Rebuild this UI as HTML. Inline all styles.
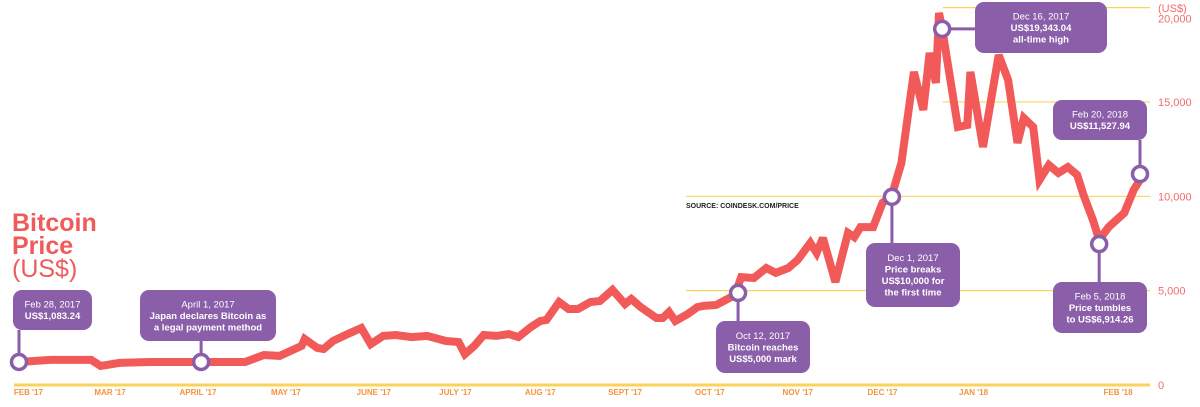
<!DOCTYPE html>
<html><head><meta charset="utf-8"><style>
html,body{margin:0;padding:0;background:#fff;}
svg{display:block;font-family:"Liberation Sans",sans-serif;}
</style></head><body>
<svg id="chart" width="1200" height="407" viewBox="0 0 1200 407" xmlns="http://www.w3.org/2000/svg">
<g fill="#f05a5a" font-weight="bold" font-size="25">
<text x="12" y="231">Bitcoin</text><text x="12" y="254">Price</text><text x="12" y="277" font-weight="normal">(US$)</text>
</g>
<text x="686" y="208" font-size="7" font-weight="bold" fill="#222">SOURCE: COINDESK.COM/PRICE</text>
<g id="grid"></g><g id="xaxis"></g><g id="yaxis"></g><g id="series"></g><g id="events"></g>
</svg>
<script>
const days=[0,10,23,26,32,42,51,59,72,78,83,90,91,95,97,100,104,109,112,116,120,125,130,136,140,142,145,148,152,156,159,163,166,168,172,175,178,182,185,189,193,195,198,203,205,207,209,213,216,218,222,225,228,230,234,238,241,245,248,252,254,256,260,264,266,268,272,275,278,281,285,288,290,292,293,294,299,302,303,307,312,315,318,320,323,325,328,331,334,337,339,342,344,347,352,355,357];
const prices=[1220,1330,1330,1010,1170,1220,1220,1220,1220,1590,1540,2070,2440,1960,1910,2330,2650,3020,2170,2600,2650,2540,2600,2330,2280,1640,2070,2650,2600,2700,2540,3070,3390,3450,4400,4030,4030,4400,4450,5040,4290,4560,4130,3550,3550,3870,3390,3760,4130,4190,4240,4500,4770,5720,5670,6200,5940,6200,6630,7530,7000,7790,5460,8060,7840,8370,8370,9650,10070,11770,16590,14580,17600,16010,19720,18870,13670,13780,16590,12610,17490,16170,12830,14150,13670,10870,11660,11240,11550,11130,10070,8750,7690,8370,9120,10340,10870];
const monthLabels=["FEB '17","MAR '17","APRIL '17","MAY '17","JUNE '17","JULY '17","AUG '17","SEPT '17","OCT '17","NOV '17","DEC '17","JAN '18","FEB '18"];
const monthDays=[3,29,57,85,113,139,166,193,220,248,275,304,350];
const yTicks=[0,5000,10000,15000,20000];
const yTickLabels=["0","5,000","10,000","15,000","20,000"];
const eventDays=[0,58,229,278,294,344,357];
const eventValues=[1220,1220,4880,9970,18870,7470,11180];
const eventTexts=[["Feb 28, 2017","US$1,083.24"],["April 1, 2017","Japan declares Bitcoin as","a legal payment method"],["Oct 12, 2017","Bitcoin reaches","US$5,000 mark"],["Dec 1, 2017","Price breaks","US$10,000 for","the first time"],["Dec 16, 2017","US$19,343.04","all-time high"],["Feb 5, 2018","Price tumbles","to US$6,914.26"],["Feb 20, 2018","US$11,527.94"]];
const NS="http://www.w3.org/2000/svg";
const X=d=>19+d*(1121/357);
const Y=v=>385-v*0.01887;
function mk(tag,attrs,parent){const e=document.createElementNS(NS,tag);for(const k in attrs)e.setAttribute(k,attrs[k]);parent.appendChild(e);return e;}
const grid=document.getElementById('grid'),xa=document.getElementById('xaxis'),ya=document.getElementById('yaxis'),se=document.getElementById('series'),ev=document.getElementById('events');
const gridStart=[14,686,686,943,943];
yTicks.forEach((t,i)=>{
 const l=mk('line',{x1:gridStart[i],x2:1150,y1:Y(t),y2:Y(t),stroke:'#fbd35a','stroke-width':i==0?3:1.2},grid);
 
 
 const tx=mk('text',{x:1158,y:(i==4?Y(t)+15:Y(t)+4),'font-size':11,fill:'#f46a6a'},ya);
 tx.textContent=yTickLabels[i];
 
 
});
const ut=mk('text',{x:1158,y:12,'font-size':11,fill:'#f46a6a'},ya);ut.textContent='(US$)';


monthLabels.forEach((m,i)=>{
 const t=mk('text',{x:X(monthDays[i]),y:395,'font-size':8,'font-weight':'bold',fill:'#f7923a','text-anchor':'middle'},xa);
 t.textContent=m;
 
 
});
const pts=days.map((d,i)=>X(d).toFixed(1)+','+Y(prices[i]).toFixed(1)).join(' ');
const pl=mk('polyline',{points:pts,fill:'none',stroke:'#f25a5a','stroke-width':8,'stroke-linejoin':'miter','stroke-miterlimit':3},se);


// callout boxes: [x,y,w,h,stem orientation]
const boxes=[[13,290,79,40,'v'],[140,290,136,51,'v'],[716,321,94,52,'v'],[866,243,94,64,'v'],[975,2,132,51,'h'],[1053,282,94,51,'v'],[1053,100,94,40,'v']];
const PURPLE='#8a5ea8';
eventDays.forEach((d,i)=>{
 const cx=X(d),cy=Y(eventValues[i]);const b=boxes[i];
 const g=mk('g',{},ev);
 
 
 if(b[4]=='h'){mk('line',{x1:cx,y1:cy,x2:b[0],y2:cy,stroke:PURPLE,'stroke-width':3},g);}
 else{const by=b[1]>cy?b[1]:b[1]+b[3];mk('line',{x1:cx,y1:cy,x2:cx,y2:by,stroke:PURPLE,'stroke-width':3},g);}
 mk('rect',{x:b[0],y:b[1],width:b[2],height:b[3],rx:9,fill:PURPLE},g);
 const c=mk('circle',{cx:cx,cy:cy,r:7.5,fill:'#fff',stroke:PURPLE,'stroke-width':3.5},g);
 
 
 const lines=eventTexts[i];const lh=11.5;const top=b[1]+b[3]/2-(lines.length*lh)/2+9;
 lines.forEach((s,j)=>{const t=mk('text',{x:b[0]+b[2]/2,y:top+j*lh,'font-size':9.5,fill:'#fff','text-anchor':'middle','font-weight':j==0?'normal':'bold'},g);t.textContent=s;});
});
</script>
</body></html>
